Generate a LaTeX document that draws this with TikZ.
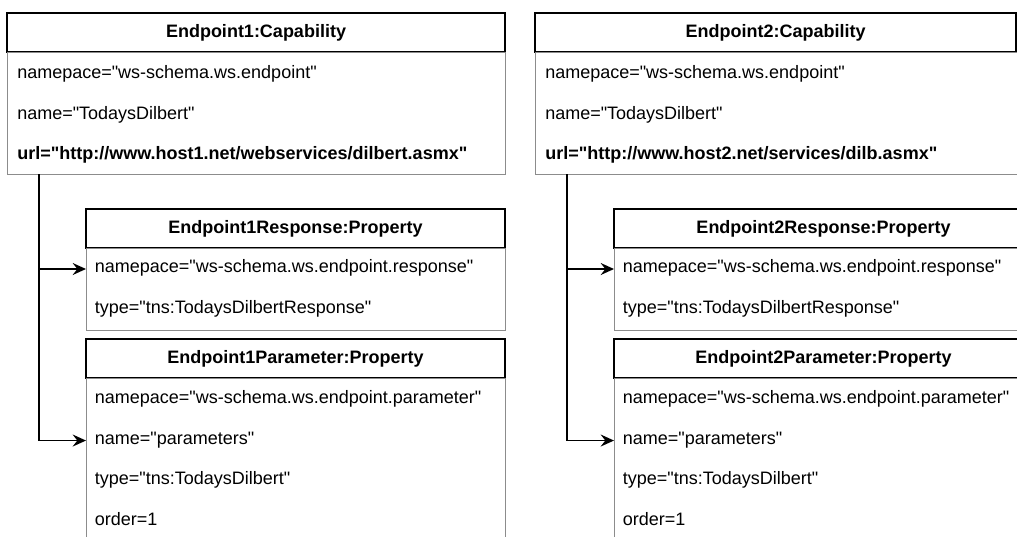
\documentclass[tikz,border=0pt]{standalone}
\usepackage{fontspec}
\setmainfont{Liberation Sans}[Ligatures=TeXOff]
\usetikzlibrary{arrows.meta,positioning}

\tikzset{
  hdr/.style={draw=black, line width=1pt, inner sep=0pt, outer sep=0pt,
              minimum height=29.25pt, font=\fontsize{13.5}{16}\selectfont\bfseries},
  bdy/.style={draw=black!45, line width=0.75pt, inner sep=0pt, outer sep=0pt},
  row/.style={anchor=mid west, inner sep=0pt, font=\fontsize{13.5}{16}\selectfont},
  link/.style={line width=1.2pt, -{Stealth[length=10pt,width=9pt,inset=3.5pt]}}
}

\begin{document}
\begin{tikzpicture}[x=0.75pt, y=-0.75pt]
  \useasboundingbox (0,0) rectangle (1017,536);
  \foreach \x/\n/\cw/\bw/\adr in {0/1/373.5pt/373.5pt/{http://www.host1.net/webservices/dilbert.asmx},
                                  528/2/360.75pt/380pt/{http://www.host2.net/services/dilb.asmx}} {
    \node[hdr, anchor=north west, minimum width=\cw]   (caph\n) at (\x+7,13) {Endpoint\n:Capability};
    \node[bdy, anchor=north west, minimum width=\bw, minimum height=91.5pt] (capb\n) at (caph\n.south west) {};
    \node[row]            (capns\n)  at ([xshift=7.5pt,yshift=-17.25pt]capb\n.north west) {namepace="ws-schema.ws.endpoint"};
    \node[row]            (capnm\n)  at ([yshift=-30.4pt]capns\n.mid west) {name="TodaysDilbert"};
    \node[row, font=\fontsize{13.5}{16}\selectfont\bfseries] (capurl\n) at ([yshift=-30.4pt]capnm\n.mid west) {url="\adr"};

    \node[hdr, anchor=north west, minimum width=314.25pt] (resh\n) at (\x+86,209) {Endpoint\n Response:Property};
    \node[bdy, below=0pt of resh\n, minimum width=314.25pt, minimum height=61.5pt] (resb\n) {};
    \node[row]            (resns\n)  at ([xshift=6.5pt,yshift=-15.75pt]resb\n.north west) {namepace="ws-schema.ws.endpoint.response"};
    \node[row]            (resty\n)  at ([yshift=-30.4pt]resns\n.mid west) {type="tns:TodaysDilbertResponse"};

    \node[hdr, anchor=north west, minimum width=314.25pt] (parh\n) at (\x+86,339) {Endpoint\n Parameter:Property};
    \node[bdy, below=0pt of parh\n, minimum width=314.25pt, minimum height=136.5pt] (parb\n) {};
    \node[row]            (parns\n)  at ([xshift=6.5pt,yshift=-16.5pt]parb\n.north west) {namepace="ws-schema.ws.endpoint.parameter"};
    \node[row]            (parnm\n)  at ([yshift=-30.4pt]parns\n.mid west) {name="parameters"};
    \node[row]            (party\n)  at ([yshift=-30.4pt]parnm\n.mid west) {type="tns:TodaysDilbert"};
    \node[row]            (parord\n) at ([yshift=-30.4pt]party\n.mid west) {order=1};

    \coordinate (trunk\n) at ([xshift=24pt]capb\n.south west);
    \draw[link] (trunk\n) |- (resns\n.mid west -| resb\n.west);
    \draw[link] (trunk\n) |- (parnm\n.mid west -| parb\n.west);
  }
\end{tikzpicture}
\end{document}
